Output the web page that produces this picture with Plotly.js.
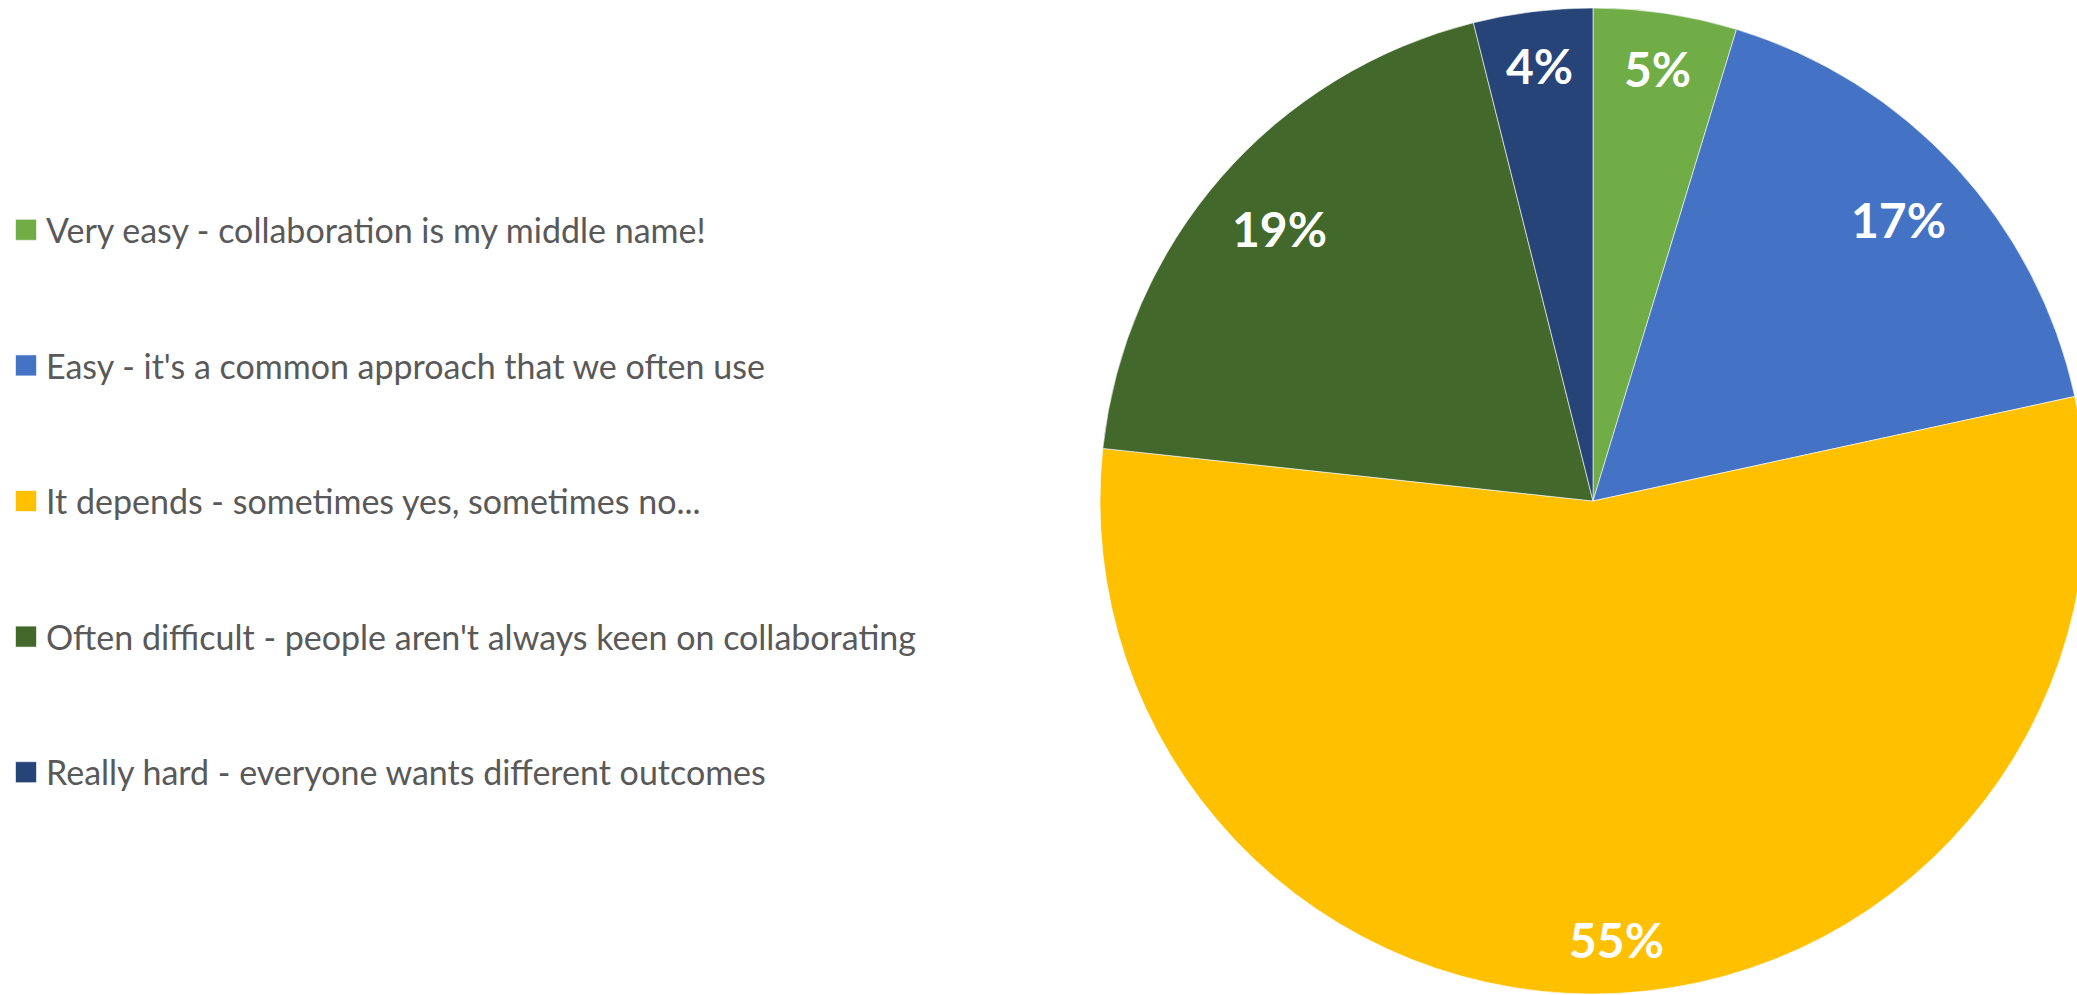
<!DOCTYPE html>
<html>
<head>
<meta charset="utf-8">
<script src="https://cdn.plot.ly/plotly-3.0.1.min.js"></script>
<style>
html, body { margin: 0; padding: 0; overflow: hidden; background: #ffffff; }
#chart { width: 2100px; height: 1000px; }
</style>
</head>
<body>
<div id="chart"></div>
<script>
// ---- data ----
const categories = [
  "Very easy - collaboration is my middle name!",
  "Easy - it's a common approach that we often use",
  "It depends - sometimes yes, sometimes no...",
  "Often difficult - people aren't always keen on collaborating",
  "Really hard - everyone wants different outcomes"
];
const shares = [4.7, 16.9, 55.1, 19.4, 3.9];
const sliceColors = ["#70AD47", "#4472C4", "#FFC000", "#43682B", "#264478"];

// ---- layout constants ----
const W = 2100, H = 1000;
const M = { l: 0, r: 0, t: 8, b: 6 };
const plotW = W - M.l - M.r, plotH = H - M.t - M.b;
const domX = [1100 / plotW, 2086 / plotW];
const domY = [0, 1];
const labelFont = 48;
const legendFont = 34;

// pie geometry derived from domain
const cx = M.l + plotW * (domX[0] + domX[1]) / 2;
const cy = M.t + plotH * (1 - (domY[0] + domY[1]) / 2);
const R = Math.min(plotW * (domX[1] - domX[0]), plotH * (domY[1] - domY[0])) / 2;

const total = shares.reduce((a, b) => a + b, 0);
let cum = 0;
const annotations = shares.map((v, i) => {
  const mid = 2 * Math.PI * (cum + v / 2) / total;
  cum += v;
  const txt = Math.round(v / total * 100) + "%";
  const w = txt.length * 0.6 * labelFont, h = 0.72 * labelFont;
  const ext = (w / 2) * Math.abs(Math.sin(mid)) + (h / 2) * Math.abs(Math.cos(mid));
  const r = R - 34 - ext;
  const px = cx + r * Math.sin(mid);
  const py = cy - r * Math.cos(mid);
  return {
    xref: "paper", yref: "paper",
    x: (px - M.l) / plotW,
    y: 1 - (py - M.t) / plotH,
    xanchor: "center", yanchor: "middle",
    text: txt, showarrow: false,
    font: { family: "Lato, 'Open Sans', sans-serif", size: labelFont, color: "#ffffff", weight: "bold" }
  };
});

const pad = "\u00a0";
const legendLabels = categories.map(c => pad + "<br>" + c + "<br>" + pad);

const trace = {
  type: "pie",
  labels: legendLabels,
  values: shares,
  sort: false,
  direction: "clockwise",
  rotation: 0,
  textinfo: "none",
  hoverinfo: "percent",
  marker: { colors: sliceColors, line: { color: "#ffffff", width: 0.6 } },
  domain: { x: domX, y: domY }
};

const layout = {
  width: W, height: H,
  margin: M,
  paper_bgcolor: "#ffffff",
  showlegend: true,
  legend: {
    x: 6 / plotW, xanchor: "left",
    y: 1 - (157 - M.t) / plotH, yanchor: "top",
    font: { family: "Lato, sans-serif", size: legendFont, color: "#595959" },
    bgcolor: "rgba(0,0,0,0)",
    traceorder: "normal"
  },
  annotations: annotations
};

Plotly.newPlot("chart", [trace], layout, { displayModeBar: false, staticPlot: true }).then(() => {
  document.querySelectorAll(".legendpie").forEach(p => {
    p.setAttribute("d", "M10.5,10.5H-10.5V-10.5H10.5Z");
  });
});
</script>
</body>
</html>
